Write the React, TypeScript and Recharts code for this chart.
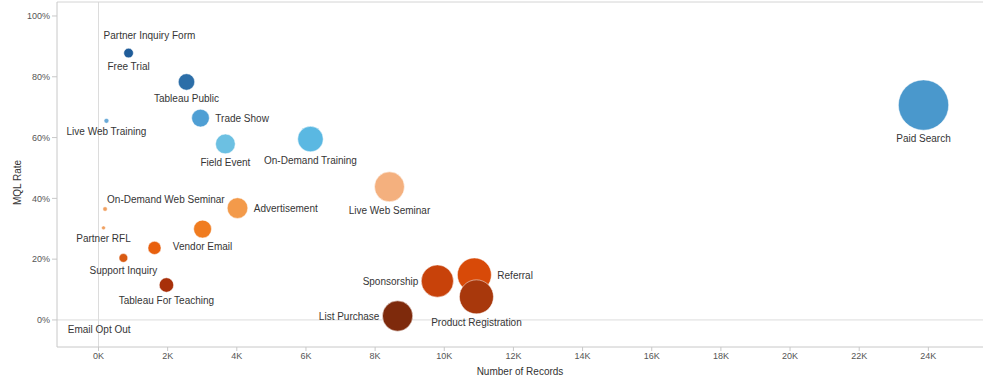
import React from "react";
import { ReferenceLine, Scatter, ScatterChart, XAxis, YAxis, ZAxis } from "recharts";

// lead sources: record volume vs. share that became MQLs
const sources = [
  "Partner Inquiry Form",
  "Free Trial",
  "Tableau Public",
  "Trade Show",
  "Live Web Training",
  "Field Event",
  "On-Demand Training",
  "Paid Search",
  "Live Web Seminar",
  "On-Demand Web Seminar",
  "Advertisement",
  "Partner RFL",
  "Vendor Email",
  "Other",
  "Support Inquiry",
  "Tableau For Teaching",
  "Email Opt Out",
  "Sponsorship",
  "Referral",
  "Product Registration",
  "List Purchase",
];

const records = [90, 870, 2545, 2950, 230, 3670, 6130, 23860, 8415, 190, 4020, 145, 3010, 1620, 720, 1965, 20, 9800, 10870, 10930, 8650];

const mqlRate = [
  0.905, 0.878, 0.783, 0.664, 0.655, 0.579, 0.595, 0.707, 0.438, 0.365, 0.368, 0.303, 0.299, 0.237, 0.204, 0.115, 0.0, 0.128,
  0.148, 0.076, 0.013,
];

const fills = [
  "#2f6fae", "#1f5c99", "#2c6ea8", "#4f9fd4", "#6aaad8", "#6cc0e2", "#5ab8e2", "#4a98cc", "#f4b07e", "#f0a060", "#f39a4a",
  "#f0a060", "#f07c20", "#e8600e", "#d85a12", "#a8300a", "#c0501a", "#c8420a", "#d84a08", "#a8380c", "#7e2a0c",
];

const xTicks = [0, 2000, 4000, 6000, 8000, 10000, 12000, 14000, 16000, 18000, 20000, 22000, 24000];
const yTicks = [0, 0.2, 0.4, 0.6, 0.8, 1];

type Side = "below" | "right" | "left" | "aboveRight" | "none";

const labelSide: Record<string, Side> = {
  "Partner Inquiry Form": "aboveRight",
  "Free Trial": "below",
  "Tableau Public": "below",
  "Trade Show": "right",
  "Live Web Training": "below",
  "Field Event": "below",
  "On-Demand Training": "below",
  "Paid Search": "below",
  "Live Web Seminar": "below",
  "On-Demand Web Seminar": "aboveRight",
  Advertisement: "right",
  "Partner RFL": "below",
  "Vendor Email": "below",
  Other: "none",
  "Support Inquiry": "below",
  "Tableau For Teaching": "below",
  "Email Opt Out": "below",
  Sponsorship: "left",
  Referral: "right",
  "Product Registration": "below",
  "List Purchase": "left",
};

const data = sources.map((name, i) => ({ name, records: records[i], rate: mqlRate[i], fill: fills[i] }));

const FONT = "'Liberation Sans', Arial, sans-serif";

function Bubble(props: any) {
  const { cx, cy, payload } = props;
  const r = props.width != null ? props.width / 2 : Math.sqrt(Math.max(props.size || 0, 0) / Math.PI);
  const side = labelSide[payload.name];
  let label = null;
  const textProps = { fontSize: 10, fill: "#353535", fontFamily: FONT };
  if (side === "below") {
    label = <text x={cx} y={cy + r + 12} textAnchor="middle" {...textProps}>{payload.name}</text>;
  } else if (side === "right") {
    label = <text x={cx + r + 6} y={cy + 4} textAnchor="start" {...textProps}>{payload.name}</text>;
  } else if (side === "left") {
    label = <text x={cx - r - 3} y={cy + 4} textAnchor="end" {...textProps}>{payload.name}</text>;
  } else if (side === "aboveRight") {
    label = <text x={cx + 2} y={cy - r - 4} textAnchor="start" {...textProps}>{payload.name}</text>;
  }
  return (
    <g>
      {r > 1.6 && <circle cx={cx} cy={cy} r={r} fill={payload.fill} stroke="#ffffff" strokeOpacity={0.5} strokeWidth={1} />}
      {label}
    </g>
  );
}

function YTitle(props: any) {
  const vb = props.viewBox || { x: 7, y: 2, width: 50, height: 345 };
  const x = vb.x + 11;
  const y = vb.y + vb.height / 2 + 8;
  return (
    <text x={x} y={y} transform={`rotate(-90 ${x} ${y})`} textAnchor="middle" dominantBaseline="middle" fontSize={10} fill="#333" fontFamily={FONT}>
      MQL Rate
    </text>
  );
}

export default function App() {
  return (
    <div style={{ position: "absolute", left: 0, top: 0, width: 984, height: 377, background: "#fff" }}>
      <ScatterChart width={984} height={377} margin={{ top: 2, right: 1, bottom: 0, left: 7 }}>
        <XAxis
          type="number"
          dataKey="records"
          domain={[-1200, 25580]}
          ticks={xTicks}
          tickFormatter={(v) => `${v / 1000}K`}
          allowDataOverflow
          height={30}
          stroke="#c8c8c8"
          tick={{ fontSize: 9, fill: "#555", fontFamily: FONT }}
          tickSize={4}
          label={{ value: "Number of Records", position: "insideBottom", offset: 2, fontSize: 10, fill: "#333", fontFamily: FONT }}
        />
        <YAxis
          type="number"
          dataKey="rate"
          domain={[-0.089, 1.046]}
          ticks={yTicks}
          tickFormatter={(v) => `${Math.round(v * 100)}%`}
          allowDataOverflow
          width={50}
          stroke="#c8c8c8"
          tick={{ fontSize: 9, fill: "#555", fontFamily: FONT }}
          tickSize={5}
          tickMargin={2}
          label={<YTitle />}
        />
        <ZAxis type="number" dataKey="records" domain={[0, 24000]} range={[0, 2000]} />
        <ReferenceLine x={0} stroke="#dcdcdc" />
        <ReferenceLine y={0} stroke="#dcdcdc" />
        <ReferenceLine y={1.046} stroke="#d4d4d4" />
        <Scatter data={data} shape={<Bubble />} isAnimationActive={false} />
      </ScatterChart>
    </div>
  );
}
